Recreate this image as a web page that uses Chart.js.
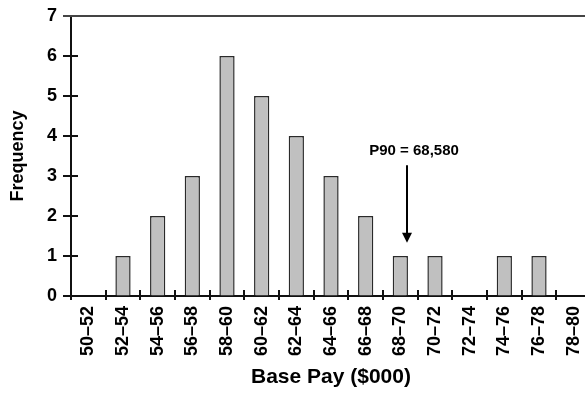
<!DOCTYPE html>
<html>
<head>
<meta charset="utf-8">
<script src="https://cdn.jsdelivr.net/npm/chart.js@4/dist/chart.umd.min.js"></script>
<style>
  html, body { margin: 0; padding: 0; background: #fff; overflow: hidden; }
  #wrap { width: 585px; height: 393px; overflow: hidden; }
  #chart { display: block; }
</style>
</head>
<body>
<div id="wrap"><canvas id="chart" width="600" height="393"></canvas></div>
<script>
// pay bands in $000 and how many people fall in each
var payBands = ["50–52", "52–54", "54–56", "56–58", "58–60", "60–62", "62–64", "64–66",
                "66–68", "68–70", "70–72", "72–74", "74–76", "76–78", "78–80"];
var frequency = [0, 1, 2, 3, 6, 5, 4, 3, 2, 1, 1, 0, 1, 1, 0];
var yTicks = [0, 1, 2, 3, 4, 5, 6, 7];

// P90 marker (x in band index units, y in frequency units)
var p90Label = "P90 = 68,580";
var p90X = 9.2;
var p90ArrowTop = 3.27;
var p90ArrowTip = 1.33;
var p90TextY = 3.64;

var fontFamily = "'Liberation Sans', Arial, Helvetica, sans-serif";
Chart.defaults.font.family = fontFamily;
Chart.defaults.font.weight = 'bold';
Chart.defaults.color = '#000';

// tick marks that cross the axes, the top frame line, and the P90 arrow
var extrasPlugin = {
  id: 'extras',
  afterDraw: function(chart) {
    var ctx = chart.ctx;
    var xs = chart.scales.x, ys = chart.scales.y;
    var area = chart.chartArea;
    ctx.save();
    ctx.strokeStyle = '#111';
    ctx.lineWidth = 2;
    ctx.beginPath();
    for (var i = 0; i < yTicks.length; i++) {
      var py = Math.round(ys.getPixelForValue(yTicks[i]));
      ctx.moveTo(area.left - 8, py);
      ctx.lineTo(area.left + 7, py);
    }
    for (var j = 0; j <= payBands.length; j++) {
      var px = Math.round(xs.getPixelForValue(j - 0.5));
      ctx.moveTo(px, area.bottom - 6);
      ctx.lineTo(px, area.bottom + 4);
    }
    ctx.stroke();

    // top frame line
    ctx.strokeStyle = '#444';
    ctx.beginPath();
    ctx.moveTo(area.left - 8, area.top);
    ctx.lineTo(area.right, area.top);
    ctx.stroke();

    // arrow
    var ax = Math.round(xs.getPixelForValue(p90X));
    var top = ys.getPixelForValue(p90ArrowTop);
    var tip = ys.getPixelForValue(p90ArrowTip);
    ctx.strokeStyle = '#000';
    ctx.fillStyle = '#000';
    ctx.lineWidth = 2;
    ctx.beginPath();
    ctx.moveTo(ax, top);
    ctx.lineTo(ax, tip - 8);
    ctx.stroke();
    ctx.beginPath();
    ctx.moveTo(ax - 5, tip - 10);
    ctx.lineTo(ax + 5, tip - 10);
    ctx.lineTo(ax, tip);
    ctx.closePath();
    ctx.fill();

    ctx.font = 'bold 15px ' + fontFamily;
    ctx.textAlign = 'center';
    ctx.textBaseline = 'middle';
    ctx.fillText(p90Label, ax + 7, ys.getPixelForValue(p90TextY));
    ctx.restore();
  }
};

new Chart(document.getElementById('chart'), {
  type: 'bar',
  data: {
    labels: payBands,
    datasets: [{
      data: frequency,
      backgroundColor: '#c0c0c0',
      borderColor: '#2a2a2a',
      borderWidth: 1.5,
      borderSkipped: 'bottom',
      barPercentage: 0.44,
      categoryPercentage: 1
    }]
  },
  options: {
    responsive: false,
    animation: false,
    layout: { padding: { top: 16, right: 9, left: 0, bottom: 0 } },
    plugins: {
      legend: { display: false },
      tooltip: { enabled: false }
    },
    scales: {
      x: {
        offset: true,
        grid: { display: true, drawOnChartArea: false, drawTicks: false, offset: true },
        border: { display: true, color: '#111', width: 2 },
        ticks: {
          minRotation: 90,
          maxRotation: 90,
          padding: 10,
          color: '#000',
          font: { family: fontFamily, size: 18, weight: 'bold' }
        },
        title: {
          display: true,
          text: 'Base Pay ($000)',
          color: '#000',
          padding: { top: 4, bottom: 3 },
          font: { family: fontFamily, size: 21, weight: 'bold' }
        },
        afterFit: function(scale) {
          scale.height = 97;
          scale.paddingLeft = 0;
          scale.paddingRight = 0;
        }
      },
      y: {
        min: 0,
        max: 7,
        grid: { display: true, drawOnChartArea: false, drawTicks: false },
        border: { display: true, color: '#111', width: 2 },
        ticks: {
          stepSize: 1,
          padding: 14,
          color: '#000',
          font: { family: fontFamily, size: 18, weight: 'bold' }
        },
        title: {
          display: true,
          text: 'Frequency',
          color: '#000',
          padding: { top: 7, bottom: 4 },
          font: { family: fontFamily, size: 18, weight: 'bold' }
        },
        afterFit: function(scale) {
          scale.width = 71;
          scale.paddingTop = 0;
          scale.paddingBottom = 0;
        }
      }
    }
  },
  plugins: [extrasPlugin]
});
</script>
</body>
</html>
